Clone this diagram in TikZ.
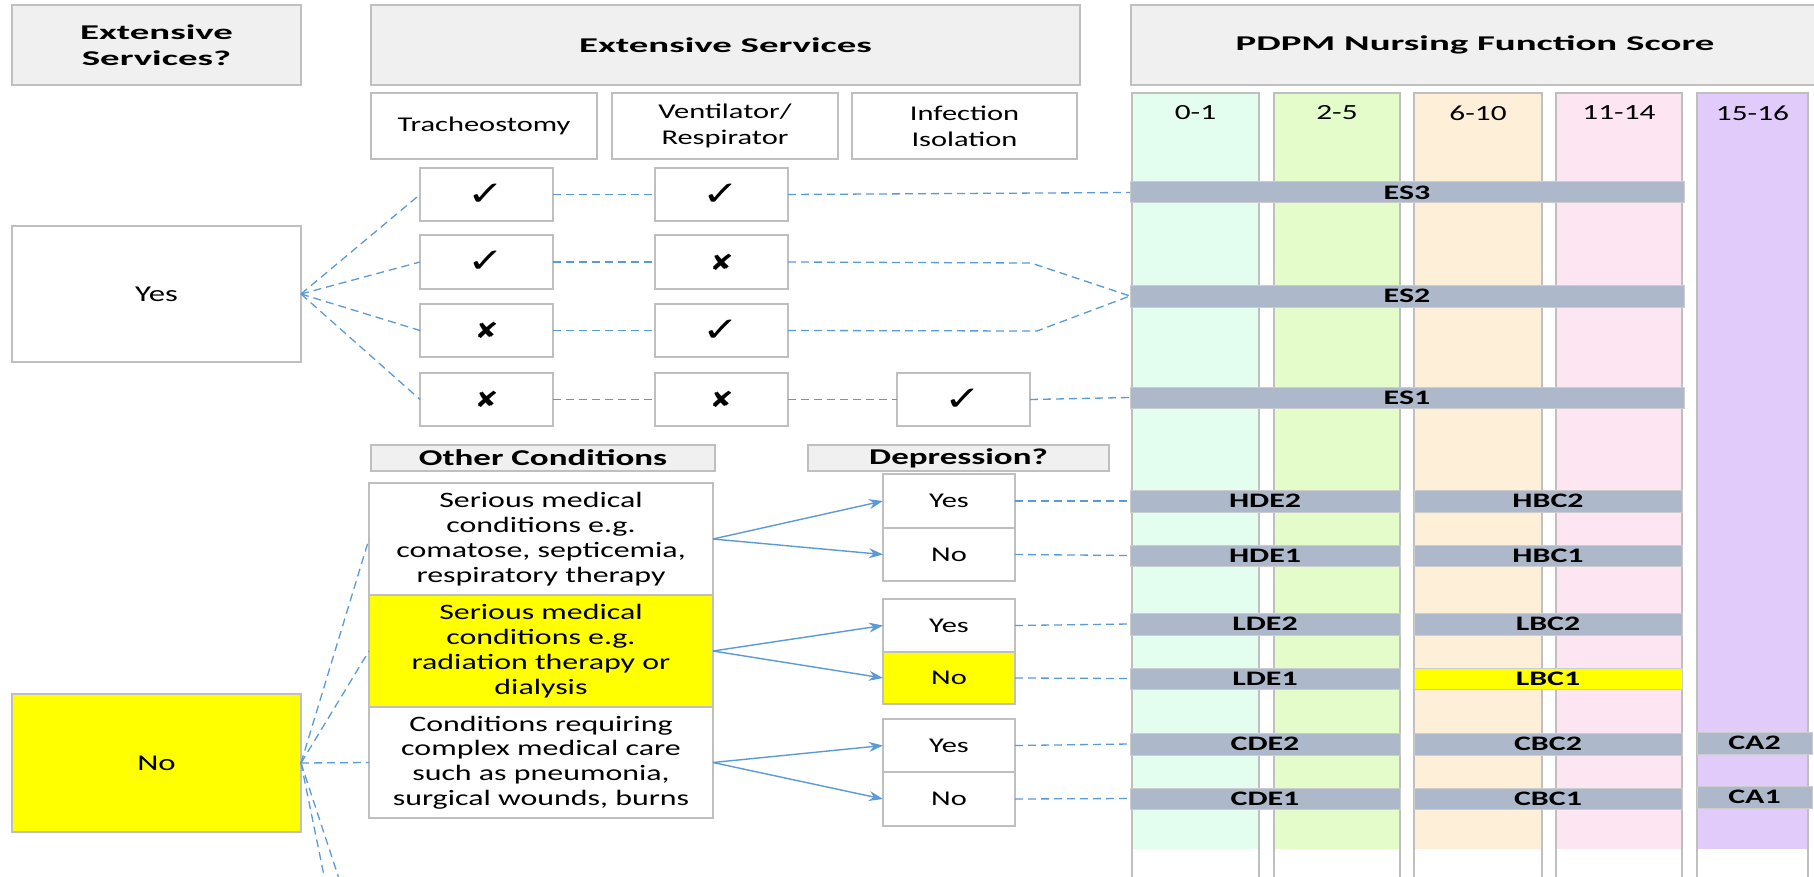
\documentclass[tikz,border=0pt]{standalone}
\usepackage{fontspec}
\setmainfont{Carlito}[FakeStretch=1.45]
\newfontfamily\hbig{Carlito}[FakeStretch=1.85]
\newfontfamily\hsml{Carlito}[FakeStretch=1.55]
\newfontfamily\symf{DejaVu Sans}[FakeStretch=1.3]
\usetikzlibrary{arrows.meta}
\definecolor{hdrfill}{HTML}{F0F0F0}
\definecolor{bordc}{HTML}{BFBFBF}
\definecolor{linkc}{HTML}{5B9BD5}
\definecolor{barc}{HTML}{ADB9CA}
\definecolor{ylw}{HTML}{FFFF00}
\definecolor{colA}{HTML}{E3FDEF}
\definecolor{colB}{HTML}{E3FCC9}
\definecolor{colC}{HTML}{FEF0D8}
\definecolor{colD}{HTML}{FDE5F1}
\definecolor{colE}{HTML}{E0CBFA}
\newcommand{\rbox}[7]{\node[#1, minimum width={(#5-#3)*0.5pt}, minimum height={(#6-#4)*0.5pt}] (#2) at ({(#3+#5)/2},{(#4+#6)/2}) {#7};}
\newcommand{\ckm}{{\symf\bfseries\fontsize{17}{17}\selectfont ✓}}
\newcommand{\xmk}{{\symf\fontsize{11}{11}\selectfont ✘}}
\tikzset{
  base/.style={draw=bordc, line width=0.8pt, inner sep=0pt, outer sep=0pt, align=center, font=\fontsize{10.5}{13}\selectfont},
  hdr/.style={base, fill=hdrfill, font=\hbig\bfseries\fontsize{10.5}{13}\selectfont},
  shdr/.style={base, fill=hdrfill, font=\hsml\bfseries\fontsize{11.3}{13}\selectfont},
  wbox/.style={base, fill=white},
  bigbox/.style={base, font=\fontsize{11.3}{13}\selectfont},
  condbox/.style={base, font=\fontsize{11}{12.4}\selectfont},
  bar/.style={draw=bordc!80, line width=0.5pt, fill=barc, inner sep=0pt, outer sep=0pt, font=\hsml\bfseries\fontsize{10.3}{12}\selectfont},
  link/.style={draw=linkc, line width=0.65pt, dash pattern=on 4pt off 2.5pt},
  arr/.style={draw=linkc, line width=0.7pt, -{Stealth[length=7pt,width=5pt]}},
  collab/.style={font=\fontsize{10.8}{13}\selectfont, inner sep=0pt}
}
\begin{document}
\begin{tikzpicture}[x=0.5pt, y=-0.5pt]
\useasboundingbox (0,0) rectangle (1814,877);
\fill[white] (0,0) rectangle (1814,877);
\clip (0,0) rectangle (1814,877);

% score columns
\foreach \xa/\xb/\c/\l/\n in {1132/1259/colA/0-1/a, 1274/1400/colB/2-5/b, 1414/1542/colC/6-10/c, 1556/1682/colD/11-14/d, 1697/1808/colE/15-16/e} {
  \fill[\c] (\xa,93) rectangle (\xb,849);
  \draw[bordc, line width=0.8pt] (\xa,877) -- (\xa,93) -- (\xb,93) -- (\xb,877);
  \node[collab] (col\n) at ({(\xa+\xb)/2},113) {\l};
}

% headers
\rbox{hdr}{hq}{12}{5}{301}{85}{Extensive\\Services?}
\rbox{hdr}{hes}{371}{5}{1080}{85}{Extensive Services}
\rbox{hdr}{hpd}{1131}{5}{1819}{85}{PDPM Nursing Function Score}

\rbox{wbox}{tra}{371}{93}{597}{159}{Tracheostomy}
\rbox{wbox}{ven}{612}{93}{838}{159}{Ventilator/\\Respirator}
\rbox{wbox}{inf}{852}{93}{1077}{159}{Infection\\Isolation}

% yes / no
\rbox{bigbox}{yes}{12}{226}{301}{362}{Yes}
\rbox{bigbox, fill=ylw}{no}{12}{694}{301}{832}{No}

% check rows
\rbox{wbox}{r1a}{420}{168}{553}{221}{\ckm}
\rbox{wbox}{r1b}{655}{168}{788}{221}{\ckm}
\rbox{wbox}{r2a}{420}{235}{553}{289}{\ckm}
\rbox{wbox}{r2b}{655}{235}{788}{289}{\xmk}
\rbox{wbox}{r3a}{420}{304}{553}{357}{\xmk}
\rbox{wbox}{r3b}{655}{304}{788}{357}{\ckm}
\rbox{wbox}{r4a}{420}{373}{553}{426}{\xmk}
\rbox{wbox}{r4b}{655}{373}{788}{426}{\xmk}
\rbox{wbox}{r4c}{897}{373}{1030}{426}{\ckm}

% bars
\rbox{bar}{es3}{1130}{182}{1684}{203}{ES3}
\rbox{bar}{es2}{1130}{285}{1684}{307}{ES2}
\rbox{bar}{es1}{1130}{387}{1684}{408}{ES1}
\rbox{bar}{hde2}{1130}{490}{1400}{512}{HDE2}
\rbox{bar}{hbc2}{1414}{490}{1682}{512}{HBC2}
\rbox{bar}{hde1}{1130}{545}{1400}{566}{HDE1}
\rbox{bar}{hbc1}{1414}{545}{1682}{566}{HBC1}
\rbox{bar}{lde2}{1130}{613}{1400}{635}{LDE2}
\rbox{bar}{lbc2}{1414}{613}{1682}{635}{LBC2}
\rbox{bar}{lde1}{1130}{668}{1400}{689}{LDE1}
\rbox{bar, fill=ylw}{lbc1}{1414}{668}{1682}{689}{LBC1}
\rbox{bar}{cde2}{1130}{733}{1400}{755}{CDE2}
\rbox{bar}{cbc2}{1414}{733}{1682}{755}{CBC2}
\rbox{bar}{ca2}{1697}{732}{1812}{754}{CA2}
\rbox{bar}{cde1}{1130}{788}{1400}{809}{CDE1}
\rbox{bar}{cbc1}{1414}{788}{1682}{809}{CBC1}
\rbox{bar}{ca1}{1697}{786}{1812}{808}{CA1}

% other conditions
\rbox{shdr}{hoc}{371}{445}{715}{471}{Other Conditions}
\rbox{shdr}{hdp}{808}{445}{1109}{471}{Depression?}
\rbox{condbox}{cb1}{369}{483}{713}{595}{Serious medical\\conditions e.g.\\comatose, septicemia,\\respiratory therapy}
\rbox{condbox, fill=ylw}{cb2}{369}{595}{713}{707}{Serious medical\\conditions e.g.\\radiation therapy or\\dialysis}
\rbox{condbox}{cb3}{369}{707}{713}{818}{Conditions requiring\\complex medical care\\such as pneumonia,\\surgical wounds, burns}

\rbox{wbox}{g1y}{883}{474}{1015}{528}{Yes}
\rbox{wbox}{g1n}{883}{528}{1015}{581}{No}
\rbox{wbox}{g2y}{883}{599}{1015}{652}{Yes}
\rbox{wbox, fill=ylw}{g2n}{883}{652}{1015}{704}{No}
\rbox{wbox}{g3y}{883}{719}{1015}{772}{Yes}
\rbox{wbox}{g3n}{883}{772}{1015}{826}{No}

% connectors: extensive services
\foreach \r in {r1a,r2a,r3a,r4a} { \draw[link] (yes.east) -- (\r.west); }
\draw[link] (r1a.east) -- (r1b.west);
\draw[link] (r2a.east) -- (r2b.west);
\draw[link] (r3a.east) -- (r3b.west);
\draw[link] (r4a.east) -- (r4b.west);
\draw[link] (r4b.east) -- (r4c.west);
\draw[link] (r1b.east) -- (es3.west);
\coordinate (k2) at (1031,263);
\coordinate (k3) at (1037,331);
\draw[link] (r2b.east) -- (k2) -- (es2.west);
\draw[link] (r3b.east) -- (k3) -- (es2.west);
\draw[link] (r4c.east) -- (es1.west);

% connectors: other conditions
\coordinate (d1) at (329,900);
\coordinate (d2) at (346,900);
\foreach \t in {cb1,cb2,cb3} { \draw[link] (no.east) -- (\t.west); }
\foreach \t in {d1,d2} { \draw[link] (no.east) -- (\t); }
\draw[arr] (cb1.east) -- (g1y.west);
\draw[arr] (cb1.east) -- (g1n.west);
\draw[arr] (cb2.east) -- (g2y.west);
\draw[arr] (cb2.east) -- (g2n.west);
\draw[arr] (cb3.east) -- (g3y.west);
\draw[arr] (cb3.east) -- (g3n.west);
\draw[link] (g1y.east) -- (hde2.west);
\draw[link] (g1n.east) -- (hde1.west);
\draw[link] (g2y.east) -- (lde2.west);
\draw[link] (g2n.east) -- (lde1.west);
\draw[link] (g3y.east) -- (cde2.west);
\draw[link] (g3n.east) -- (cde1.west);
\end{tikzpicture}
\end{document}
